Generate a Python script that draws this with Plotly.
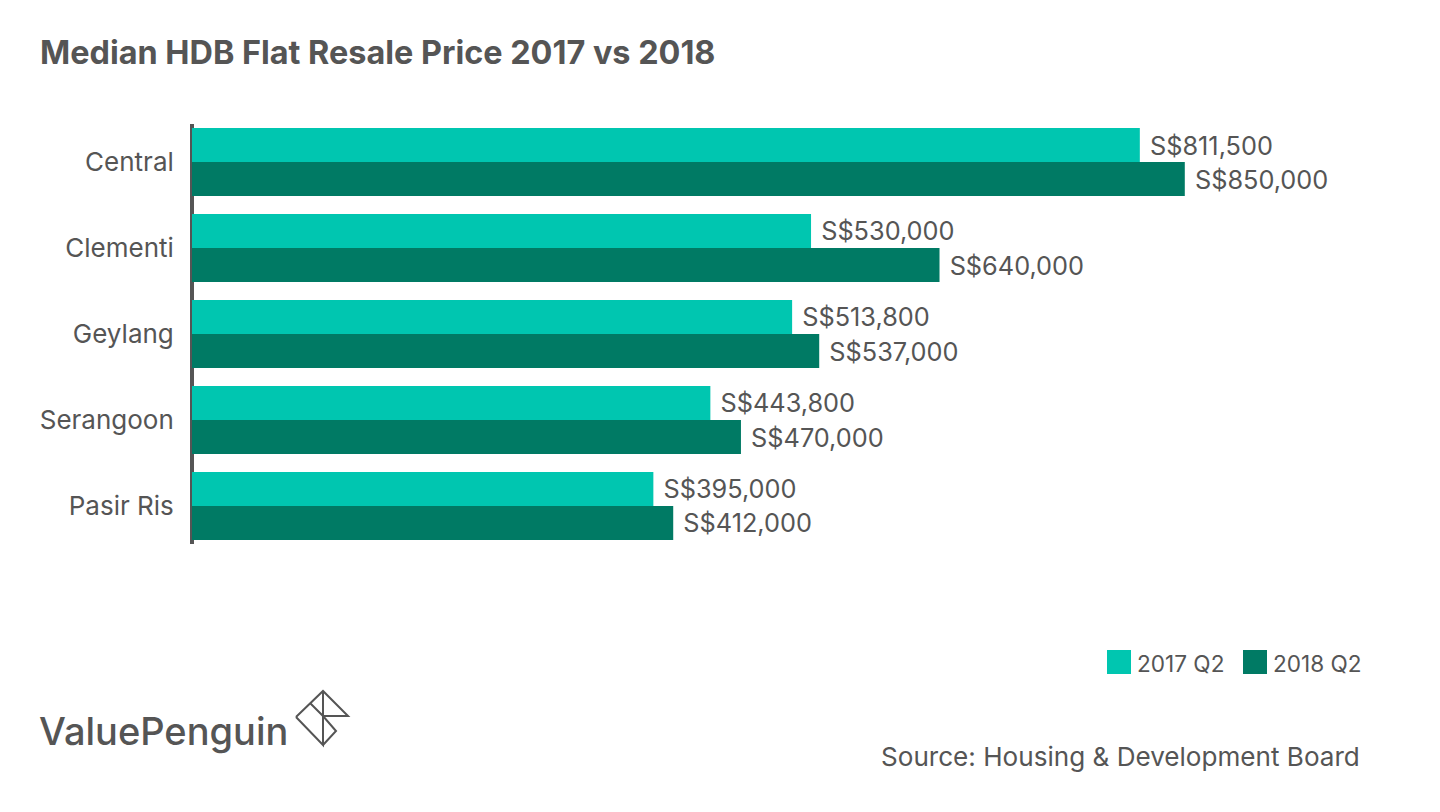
import plotly.graph_objects as go

categories = ["Central", "Clementi", "Geylang", "Serangoon", "Pasir Ris"]
values_2017 = [811500, 530000, 513800, 443800, 395000]
values_2018 = [850000, 640000, 537000, 470000, 412000]
series_names = ["2017 Q2", "2018 Q2"]
colors = ["#00C6B0", "#007A64"]

W, H = 1440, 812
GREY = "#555555"
FONT = "Inter"
L, R, T, B = 192, 1360, 124, 544


def px(x):
    return (x - L) / (R - L)


def py(y):
    return (B - y) / (B - T)


def labels(vals):
    return ["\u00a0S$" + format(v, ",") for v in vals]


fig = go.Figure()
for name, vals, col in zip(series_names, [values_2017, values_2018], colors):
    fig.add_trace(go.Bar(
        y=categories, x=vals, name=name, orientation="h",
        marker=dict(color=col, line=dict(width=0)),
        text=labels(vals), textposition="outside", cliponaxis=False,
        textfont=dict(family=FONT, size=25.3, color=GREY), showlegend=False,
    ))

annotations = [
    dict(text="<b>Median HDB Flat Resale Price 2017 vs 2018</b>", x=px(39), y=py(53),
         font=dict(size=32.4, color=GREY, family=FONT), xanchor="left"),
    dict(text="Source: Housing &amp; Development Board", x=px(1361), y=py(756),
         font=dict(size=26.1, color=GREY, family=FONT), xanchor="right"),
    dict(text="ValuePenguin", x=px(38), y=py(731),
         font=dict(size=38, color=GREY, family=FONT, weight=500), xanchor="left"),
    dict(text=series_names[0], x=px(1136), y=py(663),
         font=dict(size=22.6, color=GREY, family=FONT), xanchor="left"),
    dict(text=series_names[1], x=px(1272), y=py(663),
         font=dict(size=22.6, color=GREY, family=FONT), xanchor="left"),
]
for a in annotations:
    a.update(xref="paper", yref="paper", showarrow=False, yanchor="middle", borderpad=0)

shapes = [dict(type="line", xref="paper", yref="paper", x0=0, x1=0, y0=0, y1=1,
               layer="below", line=dict(color=GREY, width=4))]
for x0, col in zip([1107, 1243], colors):
    shapes.append(dict(type="rect", xref="paper", yref="paper", x0=px(x0), x1=px(x0 + 24),
                       y0=py(650), y1=py(674), fillcolor=col, line=dict(width=0)))

logo_lines = [
    [(296, 717), (323, 691), (348, 716), (323, 716)],
    [(323, 691), (323, 745), (296, 717)],
    [(323, 745), (336, 731), (323, 716), (310, 703)],
]
for pts in logo_lines:
    path = "M" + " L".join(f"{px(x):.5f},{py(y):.5f}" for x, y in pts)
    shapes.append(dict(type="path", xref="paper", yref="paper", path=path,
                       line=dict(color=GREY, width=2)))

fig.update_layout(
    width=W, height=H, paper_bgcolor="white", plot_bgcolor="white",
    margin=dict(l=L, r=W - R, t=T, b=H - B, autoexpand=False),
    barmode="group", bargap=0.209, bargroupgap=0,
    font=dict(family=FONT, color=GREY),
    annotations=annotations, shapes=shapes,
    xaxis=dict(range=[0, 1000000], visible=False),
    yaxis=dict(autorange=False, range=[4.442, -0.442], showgrid=False, zeroline=False,
               showline=False,
               ticks="outside", ticklen=12, tickcolor="rgba(0,0,0,0)",
               tickfont=dict(family=FONT, size=26, color=GREY)),
)

fig.write_html("out.html", config=dict(displayModeBar=False),
               post_script="document.body.style.margin='0';document.body.style.overflow='hidden';")
